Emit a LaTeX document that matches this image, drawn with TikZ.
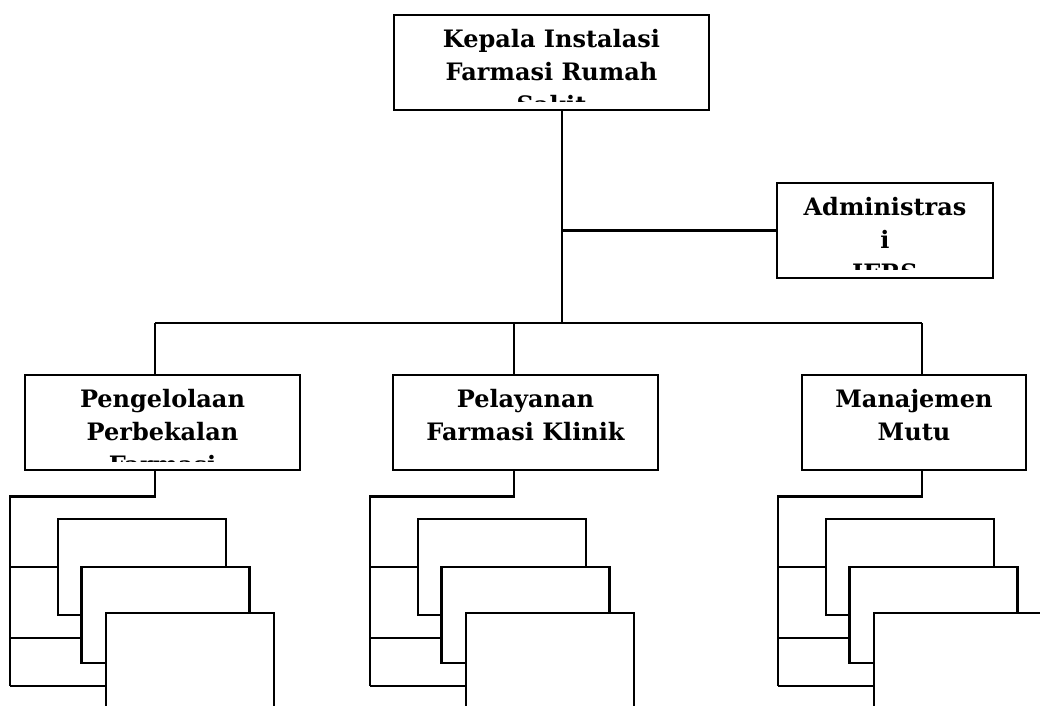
\documentclass[tikz,border=0pt]{standalone}
\usepackage{fontspec}
\setmainfont{DejaVu Serif}
\usepackage{tikz}
\usetikzlibrary{positioning}

\tikzset{
  unit/.style={draw, line width=2.5pt, fill=white, minimum height=95pt, inner sep=0pt},
  sub/.style={unit, minimum width=168pt, minimum height=96pt},
  txt/.style={anchor=north, align=center, inner sep=0pt,
    font=\fontsize{24}{33}\selectfont\bfseries}
}
% text inside a box, cut off above the lower edge
\newcommand{\boxtext}[2]{%
  \begin{scope}
    \clip ([yshift=10pt]#1.south west) rectangle (#1.north east);
    \node[txt] at ([yshift=-14.5pt]#1.north) {#2};
  \end{scope}}

\begin{document}
\begin{tikzpicture}[x=1pt, y=-1pt, line width=2.5pt]
            \clip (0,0) rectangle (1040,705);

            \coordinate (hub) at (562,323);
            \coordinate (dA) at (155,323);
            \coordinate (dB) at (514,323);
            \coordinate (dC) at (922,323);

            \node[unit, minimum width=315pt] (kepala) at (551.5,62.5) {};
            \node[unit, minimum width=216pt] (admin) at (885,230.5) {};
            \node[unit, minimum width=275pt] (peng) at (162.5,422.5) {};
            \node[unit, minimum width=265pt] (pelay) at (525.5,422.5) {};
            \node[unit, minimum width=224pt] (manaj) at (914,422.5) {};

            \boxtext{kepala}{Kepala Instalasi\\Farmasi Rumah\\Sakit}
            \boxtext{admin}{Administras\\i\\IFRS}
            \boxtext{peng}{Pengelolaan\\Perbekalan\\Farmasi}
            \boxtext{pelay}{Pelayanan\\Farmasi Klinik}
            \boxtext{manaj}{Manajemen\\Mutu}

            \draw (kepala.south -| hub) -- (hub);
            \draw (hub |- admin.west) -- (admin.west);
            \draw (dA) -- (dC);
            \draw (dA) -- (dA |- peng.north);
            \draw (dB) -- (dB |- pelay.north);
            \draw (dC) -- (dC |- manaj.north);

            % left group
            \coordinate (rA) at (10,686);
            \coordinate (bA) at (81,638);
            \draw (peng.south -| dA) -- ++(0,25) -| (rA);
            \node[sub] (A1) at (142,567) {};
            \node[sub] (A2) at (165.5,615) {};
            \node[sub] (A3) at (190,661) {};
            \draw (rA |- A1.west) -- (A1.west);
            \draw (rA |- bA) -- (bA);
            \draw (rA) -- (A3.west |- rA);

            % middle group
            \coordinate (rB) at (370,686);
            \coordinate (bB) at (441,638);
            \draw (pelay.south -| dB) -- ++(0,25) -| (rB);
            \node[sub] (B1) at (502,567) {};
            \node[sub] (B2) at (525.5,615) {};
            \node[sub] (B3) at (550,661) {};
            \draw (rB |- B1.west) -- (B1.west);
            \draw (rB |- bB) -- (bB);
            \draw (rB) -- (B3.west |- rB);

            % right group
            \coordinate (rC) at (778,686);
            \coordinate (bC) at (849,638);
            \draw (manaj.south -| dC) -- ++(0,25) -| (rC);
            \node[sub] (C1) at (910,567) {};
            \node[sub] (C2) at (933.5,615) {};
            \node[sub] (C3) at (958,661) {};
            \draw (rC |- C1.west) -- (C1.west);
            \draw (rC |- bC) -- (bC);
            \draw (rC) -- (C3.west |- rC);
\end{tikzpicture}
\end{document}
